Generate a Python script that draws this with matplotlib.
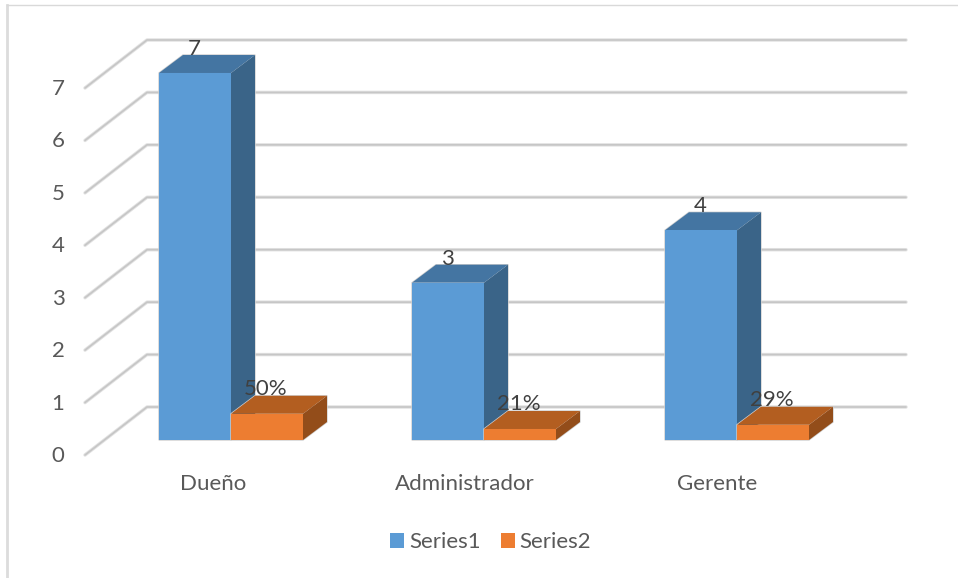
from matplotlib import pyplot as plt
from matplotlib.patches import Patch, Polygon, Rectangle

plt.rcParams['font.family'] = ['Lato', 'DejaVu Sans']

categories = ['Dueño', 'Administrador', 'Gerente']
series1 = [7, 3, 4]
series2 = [0.50, 0.21, 0.29]
labels1 = ['7', '3', '4']
labels2 = ['50%', '21%', '29%']
y_ticks = [0, 1, 2, 3, 4, 5, 6, 7]

W, H = 958, 578
CAT_PX = 253.0   # pixels between category centres
VAL_PX = 52.43   # pixels per y unit
X0_PX, Y0_PX = 231.0, 440.0

# oblique projection offsets, in axis units
BAR_W = 72 / CAT_PX
BAR_DX, BAR_DY = 24 / CAT_PX, 18 / VAL_PX
WALL_FRONT_Y = -15 / VAL_PX
WALL_BACK_Y = 33 / VAL_PX
WALL_FRONT_X = (85 - X0_PX) / CAT_PX
WALL_BACK_X = (147 - X0_PX) / CAT_PX
WALL_END_X = (906 - X0_PX) / CAT_PX

fig = plt.figure(figsize=(W / 100, H / 100), dpi=100)
ax = fig.add_axes([0, 0, 1, 1])
ax.set_xlim(-X0_PX / CAT_PX, (W - X0_PX) / CAT_PX)
ax.set_ylim((Y0_PX - H) / VAL_PX, Y0_PX / VAL_PX)
ax.axis('off')

# chart border, only the top and left edges show
ax.plot([6.5 / W, 6.5 / W], [0, 1 - 4.5 / H], transform=ax.transAxes, color='#dcdcdc', lw=2.0)
ax.plot([6.5 / W, 1], [1 - 4.5 / H, 1 - 4.5 / H], transform=ax.transAxes, color='#d9d9d9', lw=1.0)


def gridline(xs, ys):
    ax.plot(xs, ys, color='#e2e2e2', lw=2.5, solid_capstyle='round', zorder=1)
    ax.plot(xs, ys, color='#c6c6c6', lw=1.2, solid_capstyle='round', zorder=1.1)


for v in y_ticks:
    gridline([WALL_FRONT_X, WALL_BACK_X, WALL_END_X],
             [v + WALL_FRONT_Y, v + WALL_BACK_Y, v + WALL_BACK_Y])
    ax.text((58 - X0_PX) / CAT_PX, v + WALL_FRONT_Y - 1 / VAL_PX, str(v), ha='center', va='center',
            fontsize=16, color='#595959')


def bar_3d(x_left, h, front, top, side, z):
    x_right = x_left + BAR_W
    # soft grey outline around the whole box
    ax.add_patch(Polygon([(x_left, 0), (x_left, h), (x_left + BAR_DX, h + BAR_DY),
                          (x_right + BAR_DX, h + BAR_DY), (x_right + BAR_DX, BAR_DY), (x_right, 0)],
                         fc='none', ec='#cfcfcf', lw=1.0, zorder=z - 0.1))
    ax.add_patch(Polygon([(x_left, h), (x_left + BAR_DX, h + BAR_DY),
                          (x_right + BAR_DX, h + BAR_DY), (x_right, h)], fc=top, ec='none', zorder=z))
    ax.add_patch(Polygon([(x_right, 0), (x_right + BAR_DX, BAR_DY),
                          (x_right + BAR_DX, h + BAR_DY), (x_right, h)], fc=side, ec='none', zorder=z))
    ax.add_patch(Rectangle((x_left, 0), BAR_W, h, fc=front, ec='none', zorder=z + 0.1))


for i in range(len(categories)):
    bar_3d(i - BAR_W, series1[i], '#5B9BD5', '#4475A2', '#3A6488', 3)
    bar_3d(i, series2[i], '#ED7D31', '#B35E20', '#934D1A', 4)
    ax.text(i - BAR_W / 2 - 1 / CAT_PX, series1[i] + 24 / VAL_PX, labels1[i], ha='center', va='center',
            fontsize=16, color='#404040', zorder=6)
    ax.text(i + BAR_W / 2 - 1 / CAT_PX, series2[i] + 25 / VAL_PX, labels2[i], ha='center', va='center',
            fontsize=16, color='#404040', zorder=6)
    # category labels sit a little left of the group centre
    ax.text(i * 252 / CAT_PX - 18 / CAT_PX, -44 / VAL_PX, categories[i], ha='center', va='center',
            fontsize=16, color='#595959')

handles = [Patch(fc='#5B9BD5', label='Series1'), Patch(fc='#ED7D31', label='Series2')]
ax.legend(handles=handles, loc='center', bbox_to_anchor=(490.5 / W, 1 - 542.5 / H), ncol=2, frameon=False,
          fontsize=16, labelcolor='#595959', handlelength=0.63, handleheight=0.63, handletextpad=0.22,
          columnspacing=0.9)

fig.savefig('out.png', dpi=100)
